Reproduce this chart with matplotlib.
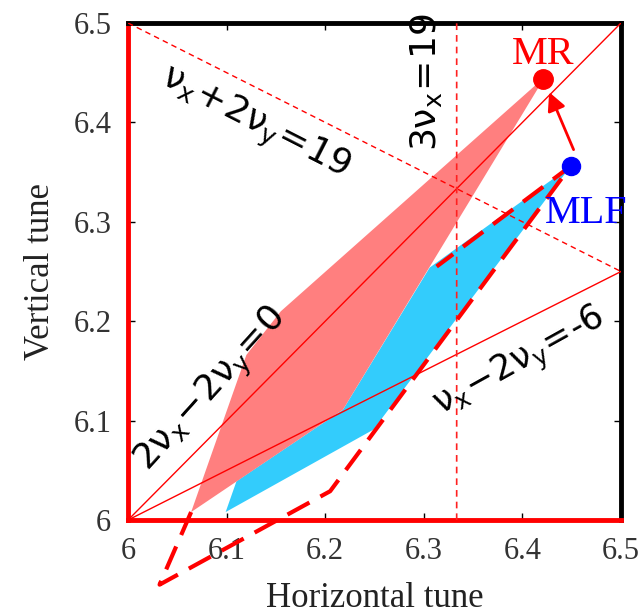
import matplotlib
matplotlib.use('Agg')
import matplotlib.pyplot as plt

# operating regions
pink_x = [6.064, 6.120, 6.155, 6.423, 6.218]
pink_y = [6.008, 6.166, 6.210, 6.446, 6.111]
blue_x = [6.099, 6.249, 6.449, 6.306, 6.218, 6.110]
blue_y = [6.008, 6.091, 6.356, 6.254, 6.111, 6.039]
path_x = [6.064, 6.032, 6.205, 6.449, 6.313]
path_y = [6.008, 5.935, 6.029, 6.356, 6.255]

mr = (6.421, 6.444)
mlf = (6.449, 6.356)
arrow_from = (6.453, 6.370)
arrow_to = (6.426, 6.433)

ticks = [6, 6.1, 6.2, 6.3, 6.4, 6.5]
tick_labels = ['6', '6.1', '6.2', '6.3', '6.4', '6.5']

plt.rcParams['mathtext.fontset'] = 'dejavusans'

fig = plt.figure(figsize=(6.44, 6.16), dpi=100)
ax = fig.add_axes([0.1988, 0.1558, 0.7655, 0.8069])

ax.fill(blue_x, blue_y, color='#33ccfc', lw=0, zorder=1)
ax.fill(pink_x, pink_y, color='#ff7f7f', lw=0, zorder=2)

# resonance lines
ax.plot([6, 6.5], [6, 6.5], color='red', lw=1, zorder=3)
ax.plot([6, 6.5], [6, 6.25], color='red', lw=1, zorder=3)
ax.plot([6, 6.5], [6.5, 6.25], color='red', lw=1, ls=(0, (4, 3)), zorder=3)
ax.plot([19/3, 19/3], [6, 6.5], color='#ff2020', lw=1.2, ls=(0, (4, 3)),
        snap=False, zorder=3)

ax.plot(path_x, path_y, color='red', lw=3, ls=(0, (6, 3)), clip_on=False, zorder=4)

ax.annotate('', xy=arrow_to, xytext=arrow_from,
            arrowprops=dict(arrowstyle='-|>,head_length=1.1,head_width=0.55',
                            color='red', lw=2), zorder=5)
ax.plot(*mr, 'o', color='red', ms=14, zorder=6)
ax.plot(*mlf, 'o', color='blue', ms=13, zorder=6)

ax.text(6.421, 6.468, 'MR', color='red', fontsize=29, family='Liberation Serif',
        ha='center', va='center', zorder=7)
ax.text(6.465, 6.308, 'MLF', color='blue', fontsize=29, family='Liberation Serif',
        ha='center', va='center', clip_on=False, zorder=7)

ax.text(6.128, 6.399, r'$\mathrm{\nu_x\!+\!2\nu_y\!=\!19}$', fontsize=26,
        rotation=-27, ha='center', va='center', rotation_mode='anchor')
ax.text(6.302, 6.44, r'$\mathrm{3\nu_x\!=\!19}$', fontsize=26,
        rotation=90, ha='center', va='center', rotation_mode='anchor')
ax.text(6.085, 6.13, r'$\mathrm{2\nu_x\!-\!2\nu_y\!=\!0}$', fontsize=26,
        rotation=48, ha='center', va='center', rotation_mode='anchor')
ax.text(6.398, 6.158, r'$\mathrm{\nu_x\!-\!2\nu_y\!=\!\text{-}6}$', fontsize=25,
        rotation=29, ha='center', va='center', rotation_mode='anchor')

ax.set_xlim(6, 6.5)
ax.set_ylim(6, 6.5)
ax.set_xticks(ticks)
ax.set_xticklabels(tick_labels)
ax.set_yticks(ticks)
ax.set_yticklabels(tick_labels)
ax.tick_params(direction='in', length=5, width=1, top=True, right=True,
               labelsize=22, labelcolor='#333333', pad=12)
for lab in ax.get_xticklabels() + ax.get_yticklabels():
    lab.set_family('Liberation Serif')

for side in ['top', 'right']:
    ax.spines[side].set_linewidth(3.5)
    ax.spines[side].set_color('black')
for side in ['left', 'bottom']:
    ax.spines[side].set_linewidth(3.5)
    ax.spines[side].set_color('red')

ax.set_xlabel('Horizontal tune', fontsize=25, family='Liberation Serif', color='#222222', labelpad=12)
ax.set_ylabel('Vertical tune', fontsize=25, family='Liberation Serif', color='#222222', labelpad=12)

fig.savefig('out.png', dpi=100)
